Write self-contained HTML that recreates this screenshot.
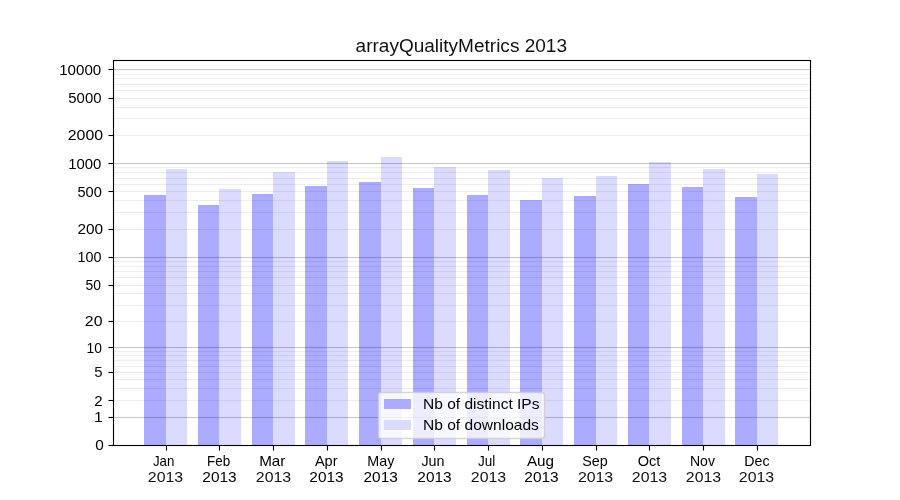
<!DOCTYPE html>
<html><head><meta charset="utf-8"><style>
html,body{margin:0;padding:0;background:#fff;width:900px;height:500px;overflow:hidden}
svg{display:block;will-change:transform}
text{font-family:"Liberation Sans", sans-serif;font-size:14.14px;fill:#000}
</style></head><body>
<svg width="900" height="500" viewBox="0 0 900 500" shape-rendering="crispEdges">
<rect x="0" y="0" width="900" height="500" fill="#fff"/>
<rect x="144" y="195" width="22" height="250" fill="#ababff"/>
<rect x="166" y="169" width="21" height="276" fill="#dbdbff"/>
<rect x="198" y="205" width="21" height="240" fill="#ababff"/>
<rect x="219" y="189" width="22" height="256" fill="#dbdbff"/>
<rect x="252" y="194" width="21" height="251" fill="#ababff"/>
<rect x="273" y="172" width="22" height="273" fill="#dbdbff"/>
<rect x="305" y="186" width="22" height="259" fill="#ababff"/>
<rect x="327" y="161" width="21" height="284" fill="#dbdbff"/>
<rect x="359" y="182" width="22" height="263" fill="#ababff"/>
<rect x="381" y="157" width="21" height="288" fill="#dbdbff"/>
<rect x="413" y="188" width="21" height="257" fill="#ababff"/>
<rect x="434" y="167" width="22" height="278" fill="#dbdbff"/>
<rect x="467" y="195" width="21" height="250" fill="#ababff"/>
<rect x="488" y="170" width="22" height="275" fill="#dbdbff"/>
<rect x="520" y="200" width="22" height="245" fill="#ababff"/>
<rect x="542" y="178" width="21" height="267" fill="#dbdbff"/>
<rect x="574" y="196" width="22" height="249" fill="#ababff"/>
<rect x="596" y="176" width="21" height="269" fill="#dbdbff"/>
<rect x="628" y="184" width="21" height="261" fill="#ababff"/>
<rect x="649" y="162" width="22" height="283" fill="#dbdbff"/>
<rect x="682" y="187" width="21" height="258" fill="#ababff"/>
<rect x="703" y="169" width="22" height="276" fill="#dbdbff"/>
<rect x="735" y="197" width="22" height="248" fill="#ababff"/>
<rect x="757" y="174" width="21" height="271" fill="#dbdbff"/>
<rect x="113" y="417" width="697" height="1" fill="#000" fill-opacity="0.21568627450980393"/><rect x="113" y="416" width="697" height="1" fill="#000" fill-opacity="0.011764705882352941"/><rect x="113" y="418" width="697" height="1" fill="#000" fill-opacity="0.011764705882352941"/>
<rect x="113" y="347" width="697" height="1" fill="#000" fill-opacity="0.21568627450980393"/><rect x="113" y="346" width="697" height="1" fill="#000" fill-opacity="0.011764705882352941"/><rect x="113" y="348" width="697" height="1" fill="#000" fill-opacity="0.011764705882352941"/>
<rect x="113" y="257" width="697" height="1" fill="#000" fill-opacity="0.21568627450980393"/><rect x="113" y="256" width="697" height="1" fill="#000" fill-opacity="0.011764705882352941"/><rect x="113" y="258" width="697" height="1" fill="#000" fill-opacity="0.011764705882352941"/>
<rect x="113" y="163" width="697" height="1" fill="#000" fill-opacity="0.21568627450980393"/><rect x="113" y="162" width="697" height="1" fill="#000" fill-opacity="0.011764705882352941"/><rect x="113" y="164" width="697" height="1" fill="#000" fill-opacity="0.011764705882352941"/>
<rect x="113" y="69" width="697" height="1" fill="#000" fill-opacity="0.21568627450980393"/><rect x="113" y="68" width="697" height="1" fill="#000" fill-opacity="0.011764705882352941"/><rect x="113" y="70" width="697" height="1" fill="#000" fill-opacity="0.011764705882352941"/>
<rect x="113" y="400" width="697" height="1" fill="#000" fill-opacity="0.06666666666666667"/><rect x="113" y="399" width="697" height="1" fill="#000" fill-opacity="0.00392156862745098"/><rect x="113" y="401" width="697" height="1" fill="#000" fill-opacity="0.00392156862745098"/>
<rect x="113" y="388" width="697" height="1" fill="#000" fill-opacity="0.06666666666666667"/><rect x="113" y="387" width="697" height="1" fill="#000" fill-opacity="0.00392156862745098"/><rect x="113" y="389" width="697" height="1" fill="#000" fill-opacity="0.00392156862745098"/>
<rect x="113" y="379" width="697" height="1" fill="#000" fill-opacity="0.06666666666666667"/><rect x="113" y="378" width="697" height="1" fill="#000" fill-opacity="0.00392156862745098"/><rect x="113" y="380" width="697" height="1" fill="#000" fill-opacity="0.00392156862745098"/>
<rect x="113" y="372" width="697" height="1" fill="#000" fill-opacity="0.06666666666666667"/><rect x="113" y="371" width="697" height="1" fill="#000" fill-opacity="0.00392156862745098"/><rect x="113" y="373" width="697" height="1" fill="#000" fill-opacity="0.00392156862745098"/>
<rect x="113" y="366" width="697" height="1" fill="#000" fill-opacity="0.06666666666666667"/><rect x="113" y="365" width="697" height="1" fill="#000" fill-opacity="0.00392156862745098"/><rect x="113" y="367" width="697" height="1" fill="#000" fill-opacity="0.00392156862745098"/>
<rect x="113" y="360" width="697" height="1" fill="#000" fill-opacity="0.06666666666666667"/><rect x="113" y="359" width="697" height="1" fill="#000" fill-opacity="0.00392156862745098"/><rect x="113" y="361" width="697" height="1" fill="#000" fill-opacity="0.00392156862745098"/>
<rect x="113" y="355" width="697" height="1" fill="#000" fill-opacity="0.06666666666666667"/><rect x="113" y="354" width="697" height="1" fill="#000" fill-opacity="0.00392156862745098"/><rect x="113" y="356" width="697" height="1" fill="#000" fill-opacity="0.00392156862745098"/>
<rect x="113" y="351" width="697" height="1" fill="#000" fill-opacity="0.06666666666666667"/><rect x="113" y="350" width="697" height="1" fill="#000" fill-opacity="0.00392156862745098"/><rect x="113" y="352" width="697" height="1" fill="#000" fill-opacity="0.00392156862745098"/>
<rect x="113" y="321" width="697" height="1" fill="#000" fill-opacity="0.06666666666666667"/><rect x="113" y="320" width="697" height="1" fill="#000" fill-opacity="0.00392156862745098"/><rect x="113" y="322" width="697" height="1" fill="#000" fill-opacity="0.00392156862745098"/>
<rect x="113" y="305" width="697" height="1" fill="#000" fill-opacity="0.06666666666666667"/><rect x="113" y="304" width="697" height="1" fill="#000" fill-opacity="0.00392156862745098"/><rect x="113" y="306" width="697" height="1" fill="#000" fill-opacity="0.00392156862745098"/>
<rect x="113" y="293" width="697" height="1" fill="#000" fill-opacity="0.06666666666666667"/><rect x="113" y="292" width="697" height="1" fill="#000" fill-opacity="0.00392156862745098"/><rect x="113" y="294" width="697" height="1" fill="#000" fill-opacity="0.00392156862745098"/>
<rect x="113" y="285" width="697" height="1" fill="#000" fill-opacity="0.06666666666666667"/><rect x="113" y="284" width="697" height="1" fill="#000" fill-opacity="0.00392156862745098"/><rect x="113" y="286" width="697" height="1" fill="#000" fill-opacity="0.00392156862745098"/>
<rect x="113" y="277" width="697" height="1" fill="#000" fill-opacity="0.06666666666666667"/><rect x="113" y="276" width="697" height="1" fill="#000" fill-opacity="0.00392156862745098"/><rect x="113" y="278" width="697" height="1" fill="#000" fill-opacity="0.00392156862745098"/>
<rect x="113" y="271" width="697" height="1" fill="#000" fill-opacity="0.06666666666666667"/><rect x="113" y="270" width="697" height="1" fill="#000" fill-opacity="0.00392156862745098"/><rect x="113" y="272" width="697" height="1" fill="#000" fill-opacity="0.00392156862745098"/>
<rect x="113" y="266" width="697" height="1" fill="#000" fill-opacity="0.06666666666666667"/><rect x="113" y="265" width="697" height="1" fill="#000" fill-opacity="0.00392156862745098"/><rect x="113" y="267" width="697" height="1" fill="#000" fill-opacity="0.00392156862745098"/>
<rect x="113" y="261" width="697" height="1" fill="#000" fill-opacity="0.06666666666666667"/><rect x="113" y="260" width="697" height="1" fill="#000" fill-opacity="0.00392156862745098"/><rect x="113" y="262" width="697" height="1" fill="#000" fill-opacity="0.00392156862745098"/>
<rect x="113" y="229" width="697" height="1" fill="#000" fill-opacity="0.06666666666666667"/><rect x="113" y="228" width="697" height="1" fill="#000" fill-opacity="0.00392156862745098"/><rect x="113" y="230" width="697" height="1" fill="#000" fill-opacity="0.00392156862745098"/>
<rect x="113" y="212" width="697" height="1" fill="#000" fill-opacity="0.06666666666666667"/><rect x="113" y="211" width="697" height="1" fill="#000" fill-opacity="0.00392156862745098"/><rect x="113" y="213" width="697" height="1" fill="#000" fill-opacity="0.00392156862745098"/>
<rect x="113" y="200" width="697" height="1" fill="#000" fill-opacity="0.06666666666666667"/><rect x="113" y="199" width="697" height="1" fill="#000" fill-opacity="0.00392156862745098"/><rect x="113" y="201" width="697" height="1" fill="#000" fill-opacity="0.00392156862745098"/>
<rect x="113" y="191" width="697" height="1" fill="#000" fill-opacity="0.06666666666666667"/><rect x="113" y="190" width="697" height="1" fill="#000" fill-opacity="0.00392156862745098"/><rect x="113" y="192" width="697" height="1" fill="#000" fill-opacity="0.00392156862745098"/>
<rect x="113" y="184" width="697" height="1" fill="#000" fill-opacity="0.06666666666666667"/><rect x="113" y="183" width="697" height="1" fill="#000" fill-opacity="0.00392156862745098"/><rect x="113" y="185" width="697" height="1" fill="#000" fill-opacity="0.00392156862745098"/>
<rect x="113" y="178" width="697" height="1" fill="#000" fill-opacity="0.06666666666666667"/><rect x="113" y="177" width="697" height="1" fill="#000" fill-opacity="0.00392156862745098"/><rect x="113" y="179" width="697" height="1" fill="#000" fill-opacity="0.00392156862745098"/>
<rect x="113" y="172" width="697" height="1" fill="#000" fill-opacity="0.06666666666666667"/><rect x="113" y="171" width="697" height="1" fill="#000" fill-opacity="0.00392156862745098"/><rect x="113" y="173" width="697" height="1" fill="#000" fill-opacity="0.00392156862745098"/>
<rect x="113" y="167" width="697" height="1" fill="#000" fill-opacity="0.06666666666666667"/><rect x="113" y="166" width="697" height="1" fill="#000" fill-opacity="0.00392156862745098"/><rect x="113" y="168" width="697" height="1" fill="#000" fill-opacity="0.00392156862745098"/>
<rect x="113" y="135" width="697" height="1" fill="#000" fill-opacity="0.06666666666666667"/><rect x="113" y="134" width="697" height="1" fill="#000" fill-opacity="0.00392156862745098"/><rect x="113" y="136" width="697" height="1" fill="#000" fill-opacity="0.00392156862745098"/>
<rect x="113" y="118" width="697" height="1" fill="#000" fill-opacity="0.06666666666666667"/><rect x="113" y="117" width="697" height="1" fill="#000" fill-opacity="0.00392156862745098"/><rect x="113" y="119" width="697" height="1" fill="#000" fill-opacity="0.00392156862745098"/>
<rect x="113" y="107" width="697" height="1" fill="#000" fill-opacity="0.06666666666666667"/><rect x="113" y="106" width="697" height="1" fill="#000" fill-opacity="0.00392156862745098"/><rect x="113" y="108" width="697" height="1" fill="#000" fill-opacity="0.00392156862745098"/>
<rect x="113" y="98" width="697" height="1" fill="#000" fill-opacity="0.06666666666666667"/><rect x="113" y="97" width="697" height="1" fill="#000" fill-opacity="0.00392156862745098"/><rect x="113" y="99" width="697" height="1" fill="#000" fill-opacity="0.00392156862745098"/>
<rect x="113" y="90" width="697" height="1" fill="#000" fill-opacity="0.06666666666666667"/><rect x="113" y="89" width="697" height="1" fill="#000" fill-opacity="0.00392156862745098"/><rect x="113" y="91" width="697" height="1" fill="#000" fill-opacity="0.00392156862745098"/>
<rect x="113" y="84" width="697" height="1" fill="#000" fill-opacity="0.06666666666666667"/><rect x="113" y="83" width="697" height="1" fill="#000" fill-opacity="0.00392156862745098"/><rect x="113" y="85" width="697" height="1" fill="#000" fill-opacity="0.00392156862745098"/>
<rect x="113" y="78" width="697" height="1" fill="#000" fill-opacity="0.06666666666666667"/><rect x="113" y="77" width="697" height="1" fill="#000" fill-opacity="0.00392156862745098"/><rect x="113" y="79" width="697" height="1" fill="#000" fill-opacity="0.00392156862745098"/>
<rect x="113" y="74" width="697" height="1" fill="#000" fill-opacity="0.06666666666666667"/><rect x="113" y="73" width="697" height="1" fill="#000" fill-opacity="0.00392156862745098"/><rect x="113" y="75" width="697" height="1" fill="#000" fill-opacity="0.00392156862745098"/>
<rect x="112" y="59" width="700" height="1" fill="#000" fill-opacity="0.055"/>
<rect x="112" y="61" width="700" height="1" fill="#000" fill-opacity="0.055"/>
<rect x="112" y="444" width="700" height="1" fill="#000" fill-opacity="0.055"/>
<rect x="112" y="446" width="700" height="1" fill="#000" fill-opacity="0.055"/>
<rect x="112" y="60" width="1" height="386" fill="#000" fill-opacity="0.055"/>
<rect x="114" y="60" width="1" height="386" fill="#000" fill-opacity="0.055"/>
<rect x="809" y="60" width="1" height="386" fill="#000" fill-opacity="0.055"/>
<rect x="811" y="60" width="1" height="386" fill="#000" fill-opacity="0.055"/>
<rect x="113" y="60" width="698" height="1" fill="#000"/>
<rect x="113" y="445" width="698" height="1" fill="#000"/>
<rect x="113" y="60" width="1" height="386" fill="#000"/>
<rect x="810" y="60" width="1" height="386" fill="#000"/>
<rect x="109" y="445" width="4" height="1" fill="#000"/>
<rect x="108" y="445" width="1" height="1" fill="#000" fill-opacity="0.500"/>
<rect x="108" y="444" width="5" height="1" fill="#000" fill-opacity="0.055"/>
<rect x="108" y="446" width="5" height="1" fill="#000" fill-opacity="0.055"/>
<text x="103.77" y="450" text-anchor="end" textLength="8.57" lengthAdjust="spacingAndGlyphs">0</text>
<rect x="109" y="417" width="4" height="1" fill="#000"/>
<rect x="108" y="417" width="1" height="1" fill="#000" fill-opacity="0.500"/>
<rect x="108" y="416" width="5" height="1" fill="#000" fill-opacity="0.055"/>
<rect x="108" y="418" width="5" height="1" fill="#000" fill-opacity="0.055"/>
<text x="102.76" y="422" text-anchor="end" textLength="8.84" lengthAdjust="spacingAndGlyphs">1</text>
<rect x="109" y="400" width="4" height="1" fill="#000"/>
<rect x="108" y="400" width="1" height="1" fill="#000" fill-opacity="0.500"/>
<rect x="108" y="399" width="5" height="1" fill="#000" fill-opacity="0.055"/>
<rect x="108" y="401" width="5" height="1" fill="#000" fill-opacity="0.055"/>
<text x="102.52" y="406" text-anchor="end" textLength="8.31" lengthAdjust="spacingAndGlyphs">2</text>
<rect x="109" y="372" width="4" height="1" fill="#000"/>
<rect x="108" y="372" width="1" height="1" fill="#000" fill-opacity="0.500"/>
<rect x="108" y="371" width="5" height="1" fill="#000" fill-opacity="0.055"/>
<rect x="108" y="373" width="5" height="1" fill="#000" fill-opacity="0.055"/>
<text x="102.47" y="377" text-anchor="end" textLength="8.31" lengthAdjust="spacingAndGlyphs" fill-opacity="0.930">5</text>
<rect x="109" y="347" width="4" height="1" fill="#000"/>
<rect x="108" y="347" width="1" height="1" fill="#000" fill-opacity="0.500"/>
<rect x="108" y="346" width="5" height="1" fill="#000" fill-opacity="0.055"/>
<rect x="108" y="348" width="5" height="1" fill="#000" fill-opacity="0.055"/>
<text x="102.00" y="353" text-anchor="end" textLength="15.39" lengthAdjust="spacingAndGlyphs">10</text>
<rect x="109" y="321" width="4" height="1" fill="#000"/>
<rect x="108" y="321" width="1" height="1" fill="#000" fill-opacity="0.500"/>
<rect x="108" y="320" width="5" height="1" fill="#000" fill-opacity="0.055"/>
<rect x="108" y="322" width="5" height="1" fill="#000" fill-opacity="0.055"/>
<text x="102.54" y="326" text-anchor="end" textLength="17.67" lengthAdjust="spacingAndGlyphs">20</text>
<rect x="109" y="285" width="4" height="1" fill="#000"/>
<rect x="108" y="285" width="1" height="1" fill="#000" fill-opacity="0.500"/>
<rect x="108" y="284" width="5" height="1" fill="#000" fill-opacity="0.055"/>
<rect x="108" y="286" width="5" height="1" fill="#000" fill-opacity="0.055"/>
<text x="101.03" y="290" text-anchor="end" textLength="15.53" lengthAdjust="spacingAndGlyphs">50</text>
<rect x="109" y="257" width="4" height="1" fill="#000"/>
<rect x="108" y="257" width="1" height="1" fill="#000" fill-opacity="0.500"/>
<rect x="108" y="256" width="5" height="1" fill="#000" fill-opacity="0.055"/>
<rect x="108" y="258" width="5" height="1" fill="#000" fill-opacity="0.055"/>
<text x="101.56" y="262" text-anchor="end" textLength="23.96" lengthAdjust="spacingAndGlyphs">100</text>
<rect x="109" y="229" width="4" height="1" fill="#000"/>
<rect x="108" y="229" width="1" height="1" fill="#000" fill-opacity="0.500"/>
<rect x="108" y="228" width="5" height="1" fill="#000" fill-opacity="0.055"/>
<rect x="108" y="230" width="5" height="1" fill="#000" fill-opacity="0.055"/>
<text x="103.12" y="234" text-anchor="end" textLength="25.71" lengthAdjust="spacingAndGlyphs">200</text>
<rect x="109" y="191" width="4" height="1" fill="#000"/>
<rect x="108" y="191" width="1" height="1" fill="#000" fill-opacity="0.500"/>
<rect x="108" y="190" width="5" height="1" fill="#000" fill-opacity="0.055"/>
<rect x="108" y="192" width="5" height="1" fill="#000" fill-opacity="0.055"/>
<text x="101.77" y="197" text-anchor="end" textLength="24.35" lengthAdjust="spacingAndGlyphs">500</text>
<rect x="109" y="163" width="4" height="1" fill="#000"/>
<rect x="108" y="163" width="1" height="1" fill="#000" fill-opacity="0.500"/>
<rect x="108" y="162" width="5" height="1" fill="#000" fill-opacity="0.055"/>
<rect x="108" y="164" width="5" height="1" fill="#000" fill-opacity="0.055"/>
<text x="101.43" y="169" text-anchor="end" textLength="33.17" lengthAdjust="spacingAndGlyphs">1000</text>
<rect x="109" y="135" width="4" height="1" fill="#000"/>
<rect x="108" y="135" width="1" height="1" fill="#000" fill-opacity="0.500"/>
<rect x="108" y="134" width="5" height="1" fill="#000" fill-opacity="0.055"/>
<rect x="108" y="136" width="5" height="1" fill="#000" fill-opacity="0.055"/>
<text x="103.12" y="140" text-anchor="end" textLength="35.35" lengthAdjust="spacingAndGlyphs">2000</text>
<rect x="109" y="98" width="4" height="1" fill="#000"/>
<rect x="108" y="98" width="1" height="1" fill="#000" fill-opacity="0.500"/>
<rect x="108" y="97" width="5" height="1" fill="#000" fill-opacity="0.055"/>
<rect x="108" y="99" width="5" height="1" fill="#000" fill-opacity="0.055"/>
<text x="101.53" y="103" text-anchor="end" textLength="33.24" lengthAdjust="spacingAndGlyphs">5000</text>
<rect x="109" y="69" width="4" height="1" fill="#000"/>
<rect x="108" y="69" width="1" height="1" fill="#000" fill-opacity="0.500"/>
<rect x="108" y="68" width="5" height="1" fill="#000" fill-opacity="0.055"/>
<rect x="108" y="70" width="5" height="1" fill="#000" fill-opacity="0.055"/>
<text x="101.21" y="75" text-anchor="end" textLength="42.05" lengthAdjust="spacingAndGlyphs">10000</text>
<rect x="166" y="446" width="1" height="4" fill="#000"/>
<rect x="166" y="450" width="1" height="1" fill="#000" fill-opacity="0.500"/>
<rect x="165" y="446" width="1" height="5" fill="#000" fill-opacity="0.055"/>
<rect x="167" y="446" width="1" height="5" fill="#000" fill-opacity="0.055"/>
<text x="163.67" y="466" text-anchor="middle" textLength="21.41" lengthAdjust="spacingAndGlyphs">Jan</text>
<text x="165.54" y="482" text-anchor="middle" textLength="35.35" lengthAdjust="spacingAndGlyphs" fill-opacity="0.930">2013</text>
<rect x="219" y="446" width="1" height="4" fill="#000"/>
<rect x="219" y="450" width="1" height="1" fill="#000" fill-opacity="0.500"/>
<rect x="218" y="446" width="1" height="5" fill="#000" fill-opacity="0.055"/>
<rect x="220" y="446" width="1" height="5" fill="#000" fill-opacity="0.055"/>
<text x="218.63" y="466" text-anchor="middle" textLength="23.14" lengthAdjust="spacingAndGlyphs">Feb</text>
<text x="219.53" y="482" text-anchor="middle" textLength="34.29" lengthAdjust="spacingAndGlyphs" fill-opacity="0.995">2013</text>
<rect x="273" y="446" width="1" height="4" fill="#000"/>
<rect x="273" y="450" width="1" height="1" fill="#000" fill-opacity="0.500"/>
<rect x="272" y="446" width="1" height="5" fill="#000" fill-opacity="0.055"/>
<rect x="274" y="446" width="1" height="5" fill="#000" fill-opacity="0.055"/>
<text x="272.31" y="466" text-anchor="middle" textLength="26.20" lengthAdjust="spacingAndGlyphs">Mar</text>
<text x="273.51" y="482" text-anchor="middle" textLength="35.35" lengthAdjust="spacingAndGlyphs" fill-opacity="0.930">2013</text>
<rect x="327" y="446" width="1" height="4" fill="#000"/>
<rect x="327" y="450" width="1" height="1" fill="#000" fill-opacity="0.500"/>
<rect x="326" y="446" width="1" height="5" fill="#000" fill-opacity="0.055"/>
<rect x="328" y="446" width="1" height="5" fill="#000" fill-opacity="0.055"/>
<text x="326.22" y="466" text-anchor="middle" textLength="22.61" lengthAdjust="spacingAndGlyphs">Apr</text>
<text x="326.48" y="482" text-anchor="middle" textLength="34.29" lengthAdjust="spacingAndGlyphs" fill-opacity="0.995">2013</text>
<rect x="381" y="446" width="1" height="4" fill="#000"/>
<rect x="381" y="450" width="1" height="1" fill="#000" fill-opacity="0.500"/>
<rect x="380" y="446" width="1" height="5" fill="#000" fill-opacity="0.055"/>
<rect x="382" y="446" width="1" height="5" fill="#000" fill-opacity="0.055"/>
<text x="380.80" y="466" text-anchor="middle" textLength="27.02" lengthAdjust="spacingAndGlyphs">May</text>
<text x="380.69" y="482" text-anchor="middle" textLength="34.29" lengthAdjust="spacingAndGlyphs">2013</text>
<rect x="434" y="446" width="1" height="4" fill="#000"/>
<rect x="434" y="450" width="1" height="1" fill="#000" fill-opacity="0.500"/>
<rect x="433" y="446" width="1" height="5" fill="#000" fill-opacity="0.055"/>
<rect x="435" y="446" width="1" height="5" fill="#000" fill-opacity="0.055"/>
<text x="433.00" y="466" text-anchor="middle" textLength="23.02" lengthAdjust="spacingAndGlyphs">Jun</text>
<text x="434.51" y="482" text-anchor="middle" textLength="34.29" lengthAdjust="spacingAndGlyphs">2013</text>
<rect x="488" y="446" width="1" height="4" fill="#000"/>
<rect x="488" y="450" width="1" height="1" fill="#000" fill-opacity="0.500"/>
<rect x="487" y="446" width="1" height="5" fill="#000" fill-opacity="0.055"/>
<rect x="489" y="446" width="1" height="5" fill="#000" fill-opacity="0.055"/>
<text x="486.63" y="466" text-anchor="middle" textLength="17.26" lengthAdjust="spacingAndGlyphs">Jul</text>
<text x="488.50" y="482" text-anchor="middle" textLength="35.35" lengthAdjust="spacingAndGlyphs" fill-opacity="0.930">2013</text>
<rect x="542" y="446" width="1" height="4" fill="#000"/>
<rect x="542" y="450" width="1" height="1" fill="#000" fill-opacity="0.500"/>
<rect x="541" y="446" width="1" height="5" fill="#000" fill-opacity="0.055"/>
<rect x="543" y="446" width="1" height="5" fill="#000" fill-opacity="0.055"/>
<text x="540.49" y="466" text-anchor="middle" textLength="27.12" lengthAdjust="spacingAndGlyphs">Aug</text>
<text x="541.51" y="482" text-anchor="middle" textLength="34.29" lengthAdjust="spacingAndGlyphs" fill-opacity="0.995">2013</text>
<rect x="596" y="446" width="1" height="4" fill="#000"/>
<rect x="596" y="450" width="1" height="1" fill="#000" fill-opacity="0.500"/>
<rect x="595" y="446" width="1" height="5" fill="#000" fill-opacity="0.055"/>
<rect x="597" y="446" width="1" height="5" fill="#000" fill-opacity="0.055"/>
<text x="595.01" y="466" text-anchor="middle" textLength="25.51" lengthAdjust="spacingAndGlyphs">Sep</text>
<text x="595.53" y="482" text-anchor="middle" textLength="35.31" lengthAdjust="spacingAndGlyphs" fill-opacity="0.930">2013</text>
<rect x="649" y="446" width="1" height="4" fill="#000"/>
<rect x="649" y="450" width="1" height="1" fill="#000" fill-opacity="0.500"/>
<rect x="648" y="446" width="1" height="5" fill="#000" fill-opacity="0.055"/>
<rect x="650" y="446" width="1" height="5" fill="#000" fill-opacity="0.055"/>
<text x="649.07" y="466" text-anchor="middle" textLength="22.60" lengthAdjust="spacingAndGlyphs">Oct</text>
<text x="649.51" y="482" text-anchor="middle" textLength="35.35" lengthAdjust="spacingAndGlyphs" fill-opacity="0.930">2013</text>
<rect x="703" y="446" width="1" height="4" fill="#000"/>
<rect x="703" y="450" width="1" height="1" fill="#000" fill-opacity="0.500"/>
<rect x="702" y="446" width="1" height="5" fill="#000" fill-opacity="0.055"/>
<rect x="704" y="446" width="1" height="5" fill="#000" fill-opacity="0.055"/>
<text x="702.43" y="466" text-anchor="middle" textLength="24.98" lengthAdjust="spacingAndGlyphs">Nov</text>
<text x="703.48" y="482" text-anchor="middle" textLength="35.35" lengthAdjust="spacingAndGlyphs" fill-opacity="0.930">2013</text>
<rect x="757" y="446" width="1" height="4" fill="#000"/>
<rect x="757" y="450" width="1" height="1" fill="#000" fill-opacity="0.500"/>
<rect x="756" y="446" width="1" height="5" fill="#000" fill-opacity="0.055"/>
<rect x="758" y="446" width="1" height="5" fill="#000" fill-opacity="0.055"/>
<text x="756.95" y="466" text-anchor="middle" textLength="25.29" lengthAdjust="spacingAndGlyphs">Dec</text>
<text x="756.51" y="482" text-anchor="middle" textLength="35.35" lengthAdjust="spacingAndGlyphs" fill-opacity="0.930">2013</text>
<text x="461.29" y="52" style="font-size:17.5px" text-anchor="middle" textLength="211.47" lengthAdjust="spacingAndGlyphs" fill-opacity="0.930">arrayQualityMetrics 2013</text>
<rect x="378.5" y="392.5" width="166" height="46" rx="2.78" ry="2.78" fill="#fff" fill-opacity="0.78" stroke="#ccc" stroke-opacity="0.8" stroke-width="1.39" shape-rendering="geometricPrecision"/>
<rect x="384" y="399" width="27" height="10" fill="#ababff"/>
<rect x="384" y="420" width="27" height="10" fill="#dbdbff"/>
<text x="423.04" y="409" style="font-size:14.4px" textLength="116.40" lengthAdjust="spacingAndGlyphs">Nb of distinct IPs</text>
<text x="423.04" y="430" style="font-size:14.4px" textLength="115.82" lengthAdjust="spacingAndGlyphs">Nb of downloads</text>
</svg></body></html>
